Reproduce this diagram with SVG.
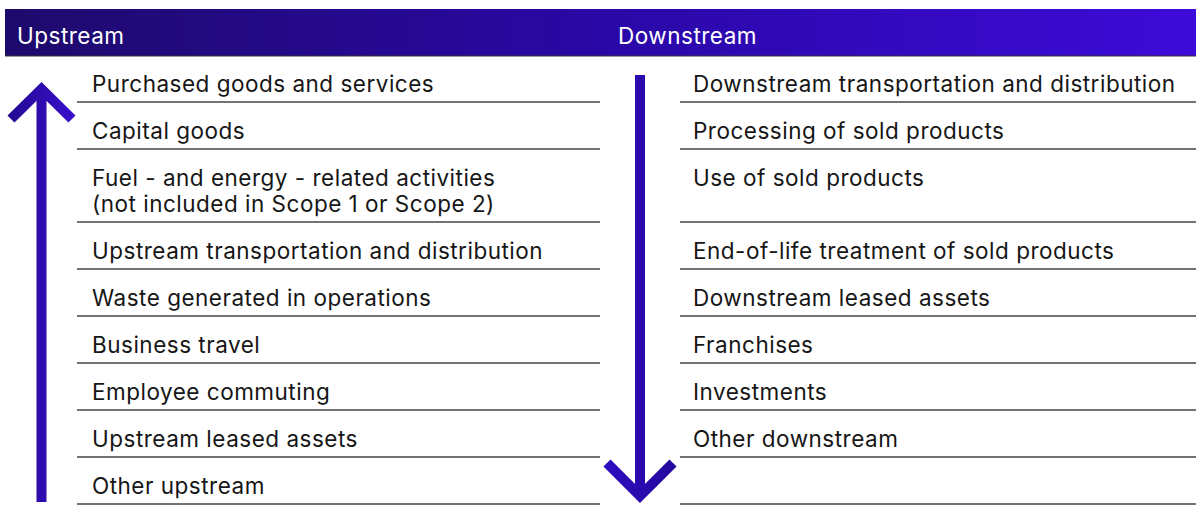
<svg xmlns="http://www.w3.org/2000/svg" width="1196" height="505" viewBox="0 0 1196 505">
<defs>
<linearGradient id="hdr" x1="0" y1="0" x2="1" y2="0">
<stop offset="0" stop-color="#1e0a6c"/>
<stop offset="0.5" stop-color="#2a08a6"/>
<stop offset="1" stop-color="#3d0bd8"/>
</linearGradient>
<linearGradient id="arrL" gradientUnits="userSpaceOnUse" x1="5" y1="0" x2="78" y2="0">
<stop offset="0" stop-color="#23088f"/>
<stop offset="1" stop-color="#3a0fd0"/>
</linearGradient>
<linearGradient id="arrR" gradientUnits="userSpaceOnUse" x1="604" y1="0" x2="677" y2="0">
<stop offset="0" stop-color="#2f0cc0"/>
<stop offset="1" stop-color="#25089c"/>
</linearGradient>
<style>
.t{font-family:Inter,"Noto Sans","Liberation Sans",sans-serif;font-size:22.5px;letter-spacing:0.5px;fill:#161616;}
.h{font-family:Inter,"Noto Sans","Liberation Sans",sans-serif;font-size:22.5px;letter-spacing:0.5px;fill:#fff;}
.ln{stroke:#444;stroke-width:1.4;fill:none;}
</style>
</defs>
<g id="header">
<rect x="5" y="9" width="1191" height="47" fill="url(#hdr)"/>
<line x1="5" y1="56" x2="1196" y2="56" stroke="#333" stroke-width="1.2"/>
<text class="h" x="17" y="44">Upstream</text>
<text class="h" x="618" y="44">Downstream</text>
</g>
<g id="connectors">
<g id="arrow-up" fill="none" stroke="url(#arrL)">
<line x1="41.5" y1="92" x2="41.5" y2="502" stroke-width="10"/>
<polyline points="11,119 41.5,89 72,119" stroke-width="10" stroke-linejoin="miter"/>
</g>
<g id="arrow-down" fill="none" stroke="url(#arrR)">
<line x1="640" y1="75" x2="640" y2="492" stroke-width="10"/>
<polyline points="607,463 640,496 673,463" stroke-width="10" stroke-linejoin="miter"/>
</g>
</g>
<g id="upstream">
<g id="u1"><text class="t" x="92" y="92">Purchased goods and services</text><line class="ln" x1="77" y1="102" x2="600" y2="102"/></g>
<g id="u2"><text class="t" x="92" y="139">Capital goods</text><line class="ln" x1="77" y1="149" x2="600" y2="149"/></g>
<g id="u3"><text class="t" x="92" y="186">Fuel - and energy - related activities</text><text class="t" x="92" y="212">(not included in Scope 1 or Scope 2)</text><line class="ln" x1="77" y1="222" x2="600" y2="222"/></g>
<g id="u4"><text class="t" x="92" y="259">Upstream transportation and distribution</text><line class="ln" x1="77" y1="269" x2="600" y2="269"/></g>
<g id="u5"><text class="t" x="92" y="306">Waste generated in operations</text><line class="ln" x1="77" y1="316" x2="600" y2="316"/></g>
<g id="u6"><text class="t" x="92" y="353">Business travel</text><line class="ln" x1="77" y1="363" x2="600" y2="363"/></g>
<g id="u7"><text class="t" x="92" y="400">Employee commuting</text><line class="ln" x1="77" y1="410" x2="600" y2="410"/></g>
<g id="u8"><text class="t" x="92" y="447">Upstream leased assets</text><line class="ln" x1="77" y1="457" x2="600" y2="457"/></g>
<g id="u9"><text class="t" x="92" y="494">Other upstream</text><line class="ln" x1="77" y1="504" x2="600" y2="504"/></g>
</g>
<g id="downstream">
<g id="d1"><text class="t" x="693" y="92">Downstream transportation and distribution</text><line class="ln" x1="680" y1="102" x2="1196" y2="102"/></g>
<g id="d2"><text class="t" x="693" y="139">Processing of sold products</text><line class="ln" x1="680" y1="149" x2="1196" y2="149"/></g>
<g id="d3"><text class="t" x="693" y="186">Use of sold products</text><line class="ln" x1="680" y1="222" x2="1196" y2="222"/></g>
<g id="d4"><text class="t" x="693" y="259">End-of-life treatment of sold products</text><line class="ln" x1="680" y1="269" x2="1196" y2="269"/></g>
<g id="d5"><text class="t" x="693" y="306">Downstream leased assets</text><line class="ln" x1="680" y1="316" x2="1196" y2="316"/></g>
<g id="d6"><text class="t" x="693" y="353">Franchises</text><line class="ln" x1="680" y1="363" x2="1196" y2="363"/></g>
<g id="d7"><text class="t" x="693" y="400">Investments</text><line class="ln" x1="680" y1="410" x2="1196" y2="410"/></g>
<g id="d8"><text class="t" x="693" y="447">Other downstream</text><line class="ln" x1="680" y1="457" x2="1196" y2="457"/></g>
<g id="d9"><line class="ln" x1="680" y1="504" x2="1196" y2="504"/></g>
</g>
</svg>
